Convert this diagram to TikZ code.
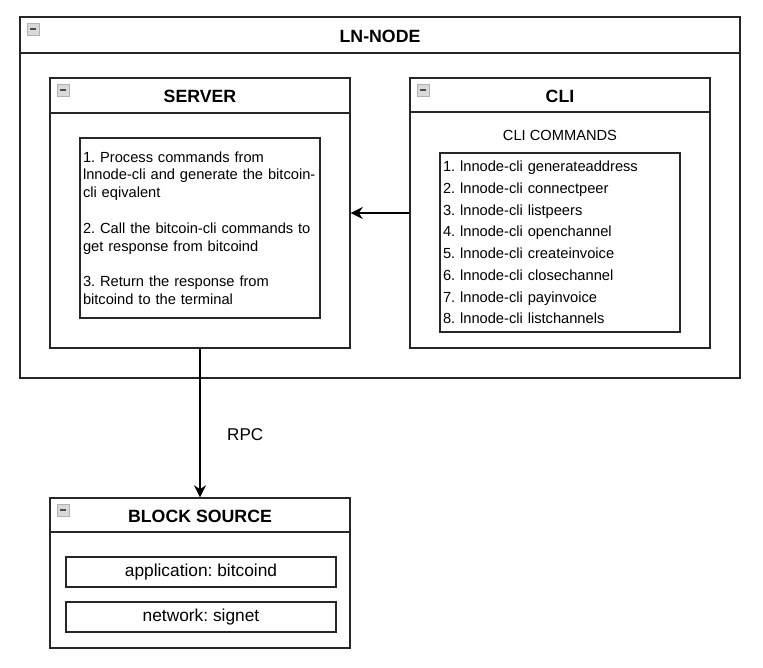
\documentclass[tikz,border=0pt]{standalone}
\usepackage{fontspec}
\setmainfont{Liberation Sans}
\usetikzlibrary{arrows.meta}
\frenchspacing
\hyphenpenalty=10000

\begin{document}
\begin{tikzpicture}[x=0.75pt, y=-0.75pt,
    every node/.style={font=\fontsize{11pt}{16.3pt}\selectfont, inner sep=0pt},
    frame/.style={draw=black!85, line width=1.1pt, fill=white},
    innerbox/.style={draw=black!85, line width=0.9pt},
    title/.style={font=\fontsize{13.3pt}{16pt}\selectfont\bfseries},
    icon/.style={fill=gray!30, draw=gray!60, line width=0.6pt},
    link/.style={-{Stealth[length=9pt, width=9pt]}, line width=0.8pt, black}]
    \useasboundingbox (0,0) rectangle (763,667);

    % Container LN-NODE
    \node[frame, minimum width=540pt, minimum height=270.75pt] (lnnode) at (380,197.5) {};
    \node[title] (lntitle) at (380,36) {LN-NODE};
    \draw[black!85, line width=1.1pt] (20,53) -- (740,53);

    % Server
    \node[frame, minimum width=225pt, minimum height=202.5pt] (server) at (200,213) {};
    \node[title] (servertitle) at (200,96) {SERVER};
    \draw[black!85, line width=1.1pt] (50,113) -- (350,113);
    \node[innerbox, minimum width=180pt, minimum height=135pt, text width=175.5pt, align=left,
          font=\fontsize{11pt}{13.35pt}\selectfont] (steps) at (200,228)
        {1. Process commands from lnnode-cli and generate the bitcoin-cli eqivalent\\[13.35pt]
         2. Call the bitcoin-cli commands to get response from bitcoind\\[13.35pt]
         3. Return the response from bitcoind to the terminal};

    % CLI
    \node[frame, minimum width=225pt, minimum height=202.5pt] (cli) at (560,213) {};
    \node[title] (clititle) at (560,96) {CLI};
    \draw[black!85, line width=1.1pt] (410,112) -- (710,112);
    \node (clihead) at (560,135) {CLI COMMANDS};
    \node[innerbox, minimum width=180pt, minimum height=134.25pt, text width=175.5pt, align=left] (commands) at (560,242.5)
        {1. lnnode-cli generateaddress\\
         2. lnnode-cli connectpeer\\
         3. lnnode-cli listpeers\\
         4. lnnode-cli openchannel\\
         5. lnnode-cli createinvoice\\
         6. lnnode-cli closechannel\\
         7. lnnode-cli payinvoice\\
         8. lnnode-cli listchannels};

    % Block source
    \node[frame, minimum width=225pt, minimum height=112.5pt] (blocksrc) at (200,573) {};
    \node[title] (blocktitle) at (200,516) {BLOCK SOURCE};
    \draw[black!85, line width=1.1pt] (50,532) -- (350,532);
    \node[innerbox, minimum width=202.5pt, minimum height=22.5pt, font=\fontsize{13pt}{15pt}\selectfont] (app) at (201,572) {application: bitcoind};
    \node[innerbox, minimum width=202.5pt, minimum height=22.5pt, font=\fontsize{13pt}{15pt}\selectfont] (net) at (201,617) {network: signet};

    % Icons
    \foreach \ix/\iy in {27/23, 57/84, 417/84, 57/504} {
        \filldraw[icon] (\ix,\iy) rectangle ++(12,12);
        \draw[black!70, line width=1.3pt] (\ix+3,\iy+6) -- ++(6,0);
    }

    % Connections
    \draw[link] (cli.west) -- (server.east);
    \draw[link] (server.south) -- (blocksrc.north) node[pos=0.58, right=20pt, font=\fontsize{12.8pt}{15pt}\selectfont] (rpc) {RPC};

\end{tikzpicture}
\end{document}
